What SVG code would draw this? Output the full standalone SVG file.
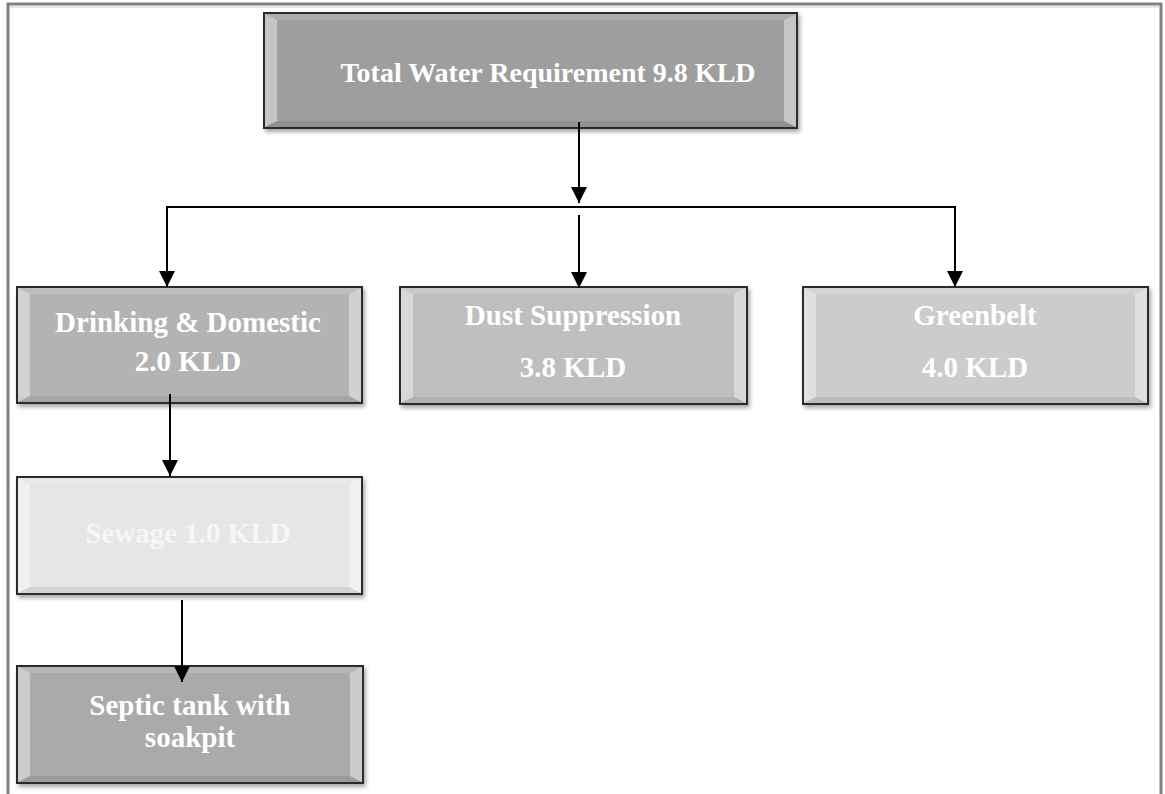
<svg xmlns="http://www.w3.org/2000/svg" width="1165" height="794" viewBox="0 0 1165 794">
<style>
.box{stroke:#2a2a2a;stroke-width:2}
.bl{fill:#ffffff;opacity:0.4}
.bt{fill:#ffffff;opacity:0.15}
.bb{fill:#000000;opacity:0.08}
.lbl{font-family:"Liberation Serif","Times New Roman",serif;font-weight:bold;font-size:29px;fill:#ffffff;text-anchor:middle}
.conn{stroke:#000;stroke-width:2;fill:none}
</style>
<defs>
<marker id="ah" markerUnits="userSpaceOnUse" markerWidth="16" markerHeight="16" refX="16" refY="8" orient="auto" viewBox="0 0 16 16">
<path d="M0,0 L16,8 L0,16 Z" fill="#000"/>
</marker>
<filter id="sh" x="-5%" y="-10%" width="110%" height="125%">
<feDropShadow dx="2" dy="3" stdDeviation="2" flood-color="#000" flood-opacity="0.35"/>
</filter>
</defs>
<rect x="0" y="0" width="1165" height="794" fill="#ffffff"/>
<path d="M8,800 L8,4 L1161,4 L1161,800" fill="none" stroke="#808080" stroke-width="3"/>
<line x1="10" y1="7" x2="1159" y2="7" stroke="#d0d0d0" stroke-width="1"/>

<g id="node-total">
<rect class="box" x="264" y="13" width="533" height="115" fill="#9e9e9e" filter="url(#sh)"/>
<polygon class="bl" points="265,14 277,20 277,121 265,127"/>
<polygon class="bl" points="796,14 784,20 784,121 796,127"/>
<polygon class="bt" points="265,14 796,14 784,20 277,20"/>
<polygon class="bb" points="265,127 796,127 784,121 277,121"/>
<text class="lbl" x="548" y="82" style="font-size:28px">Total Water Requirement 9.8 KLD</text>
</g>

<g id="node-drinking">
<rect class="box" x="17" y="287" width="345" height="116" fill="#b3b3b3" filter="url(#sh)"/>
<polygon class="bl" points="18,288 30,294 30,396 18,402"/>
<polygon class="bl" points="361,288 349,294 349,396 361,402"/>
<polygon class="bt" points="18,288 361,288 349,294 30,294"/>
<polygon class="bb" points="18,402 361,402 349,396 30,396"/>
<text class="lbl" x="188" y="332">Drinking &amp; Domestic</text>
<text class="lbl" x="188" y="371">2.0 KLD</text>
</g>

<g id="node-dust">
<rect class="box" x="400" y="287" width="347" height="117" fill="#bfbfbf" filter="url(#sh)"/>
<polygon class="bl" points="401,288 413,294 413,397 401,403"/>
<polygon class="bl" points="746,288 734,294 734,397 746,403"/>
<polygon class="bt" points="401,288 746,288 734,294 413,294"/>
<polygon class="bb" points="401,403 746,403 734,397 413,397"/>
<text class="lbl" x="573" y="325">Dust Suppression</text>
<text class="lbl" x="573" y="377">3.8 KLD</text>
</g>

<g id="node-greenbelt">
<rect class="box" x="803" y="287" width="345" height="117" fill="#cccccc" filter="url(#sh)"/>
<polygon class="bl" points="804,288 816,294 816,397 804,403"/>
<polygon class="bl" points="1147,288 1135,294 1135,397 1147,403"/>
<polygon class="bt" points="804,288 1147,288 1135,294 816,294"/>
<polygon class="bb" points="804,403 1147,403 1135,397 816,397"/>
<text class="lbl" x="975" y="325">Greenbelt</text>
<text class="lbl" x="975" y="377">4.0 KLD</text>
</g>

<g id="node-sewage">
<rect class="box" x="17" y="477" width="345" height="117" fill="#e6e6e6" filter="url(#sh)"/>
<polygon class="bl" points="18,478 30,484 30,587 18,593"/>
<polygon class="bl" points="361,478 349,484 349,587 361,593"/>
<polygon class="bt" points="18,478 361,478 349,484 30,484"/>
<polygon class="bb" points="18,593 361,593 349,587 30,587"/>
<text class="lbl" x="188" y="543" style="fill:#f6f6f6">Sewage 1.0 KLD</text>
</g>

<g id="node-septic">
<rect class="box" x="17" y="666" width="346" height="117" fill="#aaaaaa" filter="url(#sh)"/>
<polygon class="bl" points="18,667 30,673 30,776 18,782"/>
<polygon class="bl" points="362,667 350,673 350,776 362,782"/>
<polygon class="bt" points="18,667 362,667 350,673 30,673"/>
<polygon class="bb" points="18,782 362,782 350,776 30,776"/>
<text class="lbl" x="190" y="715">Septic tank with</text>
<text class="lbl" x="190" y="747">soakpit</text>
</g>

<g id="connectors">
<line class="conn" x1="579" y1="122" x2="579" y2="203" marker-end="url(#ah)"/>
<line class="conn" x1="166" y1="207" x2="956" y2="207"/>
<line class="conn" x1="167" y1="206" x2="167" y2="287" marker-end="url(#ah)"/>
<line class="conn" x1="579" y1="215" x2="579" y2="288" marker-end="url(#ah)"/>
<line class="conn" x1="955" y1="206" x2="955" y2="287" marker-end="url(#ah)"/>
<line class="conn" x1="170" y1="394" x2="170" y2="476" marker-end="url(#ah)"/>
<line class="conn" x1="182" y1="600" x2="182" y2="682" marker-end="url(#ah)"/>
</g>
</svg>
